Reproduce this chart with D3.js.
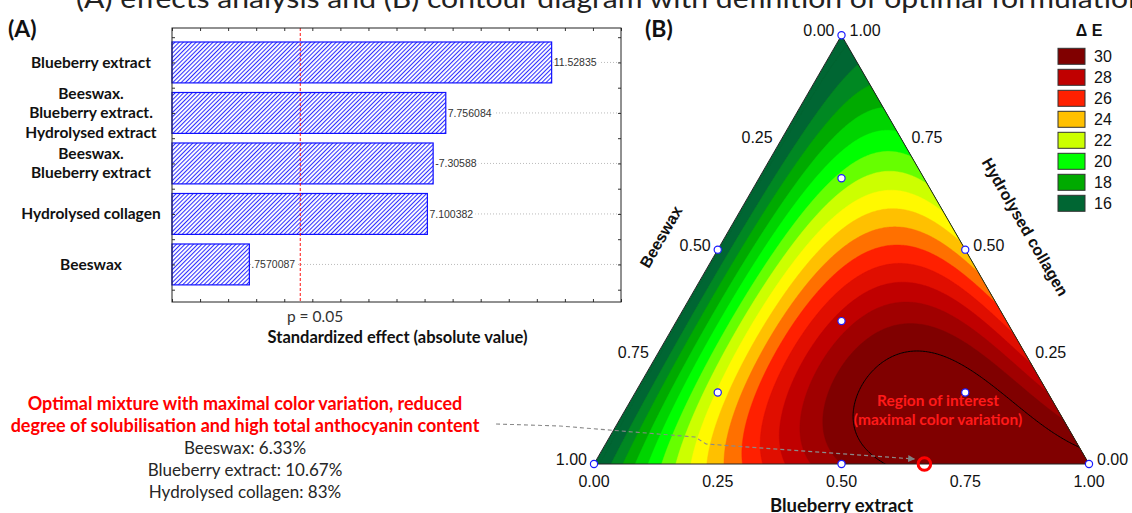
<!DOCTYPE html>
<html>
<head>
<meta charset="utf-8">
<script src="https://cdn.jsdelivr.net/npm/d3@7"></script>
<style>
  html, body { margin: 0; padding: 0; background: #fff; }
  svg { display: block; }
</style>
</head>
<body>
<svg id="chart" width="1132" height="513"></svg>
<script>
// ---------------- data ----------------
const chartTitle = "(A) effects analysis and (B) contour diagram with definition of optimal formulation";

// Pareto chart of standardized effects
const effectNames = [
  ["Blueberry extract"],
  ["Beeswax.", "Blueberry extract.", "Hydrolysed extract"],
  ["Beeswax.", "Blueberry extract"],
  ["Hydrolysed collagen"],
  ["Beeswax"]
];
const effectValues = [11.52835, 7.756084, -7.30588, 7.100382, 0.7570087];
const effectValueText = ["11.52835", "7.756084", "-7.30588", "7.100382", ".7570087"];
const pCritical = 2.570582;          // t(0.975; 5 df)
const effectAxisDomain = [-2, 14];
const effectAxisTitle = "Standardized effect (absolute value)";
const pLineText = "p = 0.05";

// Mixture components (pseudo-component scale)
const componentNames = ["Beeswax", "Blueberry extract", "Hydrolysed collagen"];
const componentLower = [5, 8, 83];   // % lower bounds
const componentRange = 4;            // % span of each pseudo-component
const edgeTickValues = [0, 0.25, 0.5, 0.75, 1];

// Simplex-centroid design with axial points (w = beeswax, b = blueberry, c = collagen)
const designPoints = [
  [1, 0, 0], [0, 1, 0], [0, 0, 1],
  [0.5, 0.5, 0], [0.5, 0, 0.5], [0, 0.5, 0.5],
  [1/3, 1/3, 1/3],
  [2/3, 1/6, 1/6], [1/6, 2/3, 1/6], [1/6, 1/6, 2/3]
];

// Fitted ΔE response surface
const linearCoefs = [15.5, 31.8, 15.5];   // w, b, c
const quadCoefs = [25.4, 1.0, 2.4];       // wb, wc, bc
const cubicCoefs = [3.3, 0, -4.5];        // wb(w-b), wc(w-c), bc(b-c)
const quarticCoefs = [74, 200, 75.6];     // wbc·w, wbc·b, wbc·c

const legendTitle = "Δ E";
const legendLevels = [30, 28, 26, 24, 22, 20, 18, 16];
const legendColors = ["#800000", "#c00000", "#ff2000", "#ffc000", "#ccff00", "#00ff00", "#00aa00", "#006633"];
const roiLevel = 31.1;
const roiText = ["Region of interest", "(maximal color variation)"];

// Optimal formulation (%)
const optimumPercent = [6.33, 10.67, 83];
const optimumHeading = ["Optimal mixture with maximal color variation, reduced",
                        "degree of solubilisation and high total anthocyanin content"];
const optimumLines = ["Beeswax: 6.33%", "Blueberry extract: 10.67%", "Hydrolysed collagen: 83%"];

// ---------------- setup ----------------
const svg = d3.select("#chart");
const defs = svg.append("defs");
const CAL = "Lato, 'Open Sans', sans-serif";
const ARI = "'Liberation Sans', Arial, sans-serif";

svg.append("text")
  .attr("x", 76).attr("y", 8)
  .attr("font-family", CAL).attr("font-size", 26).attr("fill", "#222")
  .attr("textLength", 1069).attr("lengthAdjust", "spacingAndGlyphs")
  .text(chartTitle);

// ---------------- (A) Pareto chart ----------------
const frame = { left: 172, right: 621, top: 28, bottom: 302 };
const x = d3.scaleLinear().domain(effectAxisDomain).range([frame.left, frame.right]);
const y = d3.scaleBand().domain(d3.range(effectValues.length))
  .range([frame.top, frame.bottom]).paddingInner(0.19).paddingOuter(0.308).align(0.45);
const yIdx = d3.scaleLinear().domain([0, effectValues.length - 1])
  .range([y(0) + y.bandwidth() / 2, y(effectValues.length - 1) + y.bandwidth() / 2]);

const hatch = defs.append("pattern").attr("id", "hatch")
  .attr("patternUnits", "userSpaceOnUse").attr("width", 3).attr("height", 3)
  .attr("patternTransform", "rotate(45)");
hatch.append("rect").attr("width", 3).attr("height", 3).attr("fill", "#fff");
hatch.append("line").attr("x1", 0.5).attr("y1", 0).attr("x2", 0.5).attr("y2", 3)
  .attr("stroke", "#2f2fff").attr("stroke-width", 1.1);

const pareto = svg.append("g");

// dotted guide lines at each effect
pareto.selectAll("line.guide").data(effectValues).join("line")
  .attr("class", "guide")
  .attr("x1", frame.left).attr("x2", frame.right)
  .attr("y1", (d, i) => yIdx(i)).attr("y2", (d, i) => yIdx(i))
  .attr("stroke", "#bbb").attr("stroke-width", 1).attr("stroke-dasharray", "1,2");

pareto.selectAll("rect.bar").data(effectValues).join("rect")
  .attr("class", "bar")
  .attr("x", x(effectAxisDomain[0]))
  .attr("y", (d, i) => y(i))
  .attr("width", d => x(Math.abs(d)) - x(effectAxisDomain[0]))
  .attr("height", y.bandwidth())
  .attr("fill", "url(#hatch)").attr("stroke", "#1010ff").attr("stroke-width", 1.2);

// value labels
const valG = pareto.selectAll("g.val").data(effectValues).join("g").attr("class", "val");
valG.each(function (d, i) {
  const g = d3.select(this);
  const t = g.append("text")
    .attr("x", x(Math.abs(d)) + 2).attr("y", yIdx(i) + 3.8)
    .attr("font-family", ARI).attr("font-size", 10.5).attr("fill", "#333")
    .text(effectValueText[i]);
  const bb = t.node().getBBox();
  g.insert("rect", "text").attr("x", bb.x).attr("y", bb.y).attr("width", bb.width + 2)
    .attr("height", bb.height).attr("fill", "#fff");
});

// significance line
pareto.append("line")
  .attr("x1", x(pCritical)).attr("x2", x(pCritical))
  .attr("y1", frame.top).attr("y2", frame.bottom)
  .attr("stroke", "#ff1010").attr("stroke-width", 1).attr("stroke-dasharray", "3,2");

// frame and ticks
const xTicks = d3.range(effectAxisDomain[0], effectAxisDomain[1] + 0.01, 1);
const yTicks = d3.range(-0.5, effectValues.length - 0.49, 0.5);
const styleAxis = g => {
  g.select(".domain").remove();
  g.selectAll(".tick line").attr("stroke", "#333");
  g.selectAll(".tick text").remove();
};
pareto.append("g").attr("transform", `translate(0,${frame.bottom})`)
  .call(d3.axisBottom(x).tickValues(xTicks).tickSize(-3)).call(styleAxis);
pareto.append("g").attr("transform", `translate(0,${frame.top})`)
  .call(d3.axisTop(x).tickValues(xTicks).tickSize(-3)).call(styleAxis);
pareto.append("g").attr("transform", `translate(${frame.left},0)`)
  .call(d3.axisLeft(yIdx).tickValues(yTicks).tickSize(-3)).call(styleAxis);
pareto.append("g").attr("transform", `translate(${frame.right},0)`)
  .call(d3.axisRight(yIdx).tickValues(yTicks).tickSize(-3)).call(styleAxis);
pareto.append("rect")
  .attr("x", frame.left).attr("y", frame.top)
  .attr("width", frame.right - frame.left).attr("height", frame.bottom - frame.top)
  .attr("fill", "none").attr("stroke", "#222").attr("stroke-width", 1);

// category labels
pareto.selectAll("text.cat").data(effectNames).join("text")
  .attr("class", "cat")
  .attr("text-anchor", "middle")
  .attr("font-family", CAL).attr("font-weight", 700).attr("font-size", 15.5).attr("fill", "#111")
  .each(function (lines, i) {
    const t = d3.select(this);
    const lh = 19.3;
    const y0 = yIdx(i) - (lines.length - 1) * lh / 2 + 5.3;
    lines.forEach((s, k) => t.append("tspan").attr("x", 91).attr("y", y0 + k * lh).text(s));
  });

pareto.append("text").attr("x", 315).attr("y", 322)
  .attr("text-anchor", "middle").attr("font-family", CAL).attr("font-size", 15.5).attr("fill", "#333")
  .text(pLineText);
pareto.append("text").attr("x", (frame.left + frame.right) / 2 + 1).attr("y", 343)
  .attr("text-anchor", "middle").attr("font-family", CAL).attr("font-weight", 700)
  .attr("font-size", 16.5).attr("fill", "#111")
  .text(effectAxisTitle);

svg.append("text").attr("x", 8).attr("y", 37)
  .attr("font-family", CAL).attr("font-weight", 700).attr("font-size", 23).attr("fill", "#111").text("(A)");
svg.append("text").attr("x", 645).attr("y", 37)
  .attr("font-family", CAL).attr("font-weight", 700).attr("font-size", 23).attr("fill", "#111").text("(B)");

// ---------------- (B) ternary contour ----------------
const S3 = Math.sqrt(3) / 2;
const tri = { x0: 594, x1: 1089, yBase: 464 };
const tx = d3.scaleLinear().domain([0, 1]).range([tri.x0, tri.x1]);
const ty = d3.scaleLinear().domain([0, S3]).range([tri.yBase, tri.yBase - (tri.x1 - tri.x0) * S3]);
const toXY = ([w, b, c]) => [tx(b + c / 2), ty(c * S3)];

function deltaE(w, b, c) {
  const [lw, lb, lc] = linearCoefs;
  const [qwb, qwc, qbc] = quadCoefs;
  const [cwb, cwc, cbc] = cubicCoefs;
  const [kw, kb, kc] = quarticCoefs;
  return lw * w + lb * b + lc * c
    + qwb * w * b + qwc * w * c + qbc * b * c
    + cwb * w * b * (w - b) + cwc * w * c * (w - c) + cbc * b * c * (b - c)
    + w * b * c * (kw * w + kb * b + kc * c);
}

const corners = [[1, 0, 0], [0, 1, 0], [0, 0, 1]].map(toXY);
defs.append("clipPath").attr("id", "triClip")
  .append("polygon").attr("points", corners.map(p => p.join(",")).join(" "));

const step = 1.5;
const gx0 = tri.x0 - 3, gy0 = ty(S3) - 3;
const nx = Math.ceil((tri.x1 - tri.x0 + 6) / step) + 1;
const ny = Math.ceil((tri.yBase - gy0 + 3) / step) + 1;
const grid = new Float64Array(nx * ny);
for (let j = 0; j < ny; j++) {
  for (let i = 0; i < nx; i++) {
    const X = tx.invert(gx0 + i * step), Y = ty.invert(gy0 + j * step);
    const c = Y / S3, b = X - c / 2, w = 1 - b - c;
    grid[j * nx + i] = deltaE(w, b, c);
  }
}

const levelColor = d3.scaleLinear()
  .domain(legendLevels.slice().reverse())
  .range(legendColors.slice().reverse())
  .interpolate(d3.interpolateHsl).clamp(true);

const bandThresholds = d3.range(16, legendLevels[0] + 1);
const contourGen = d3.contours().size([nx, ny]).thresholds(bandThresholds);
const path = d3.geoPath(d3.geoIdentity().scale(step).translate([gx0 - step / 2, gy0 - step / 2]));

const tern = svg.append("g");
const fillG = tern.append("g").attr("clip-path", "url(#triClip)");
fillG.append("polygon").attr("points", corners.map(p => p.join(",")).join(" "))
  .attr("fill", levelColor(legendLevels[legendLevels.length - 1]));
fillG.selectAll("path.band").data(contourGen(grid)).join("path")
  .attr("class", "band")
  .attr("d", path)
  .attr("fill", d => levelColor(d.value))
  .attr("stroke", d => levelColor(d.value)).attr("stroke-width", 0.4);

const roi = d3.contours().size([nx, ny]).thresholds([roiLevel])(grid);
fillG.selectAll("path.roi").data(roi).join("path")
  .attr("class", "roi").attr("d", path)
  .attr("fill", "none").attr("stroke", "#000").attr("stroke-width", 1);

tern.append("polygon").attr("points", corners.map(p => p.join(",")).join(" "))
  .attr("fill", "none").attr("stroke", "#222").attr("stroke-width", 1);

// edge tick labels
const tickG = tern.append("g").attr("font-family", ARI).attr("font-size", 16).attr("fill", "#111");
edgeTickValues.forEach(v => {
  const [bx, by] = toXY([1 - v, v, 0]);
  tickG.append("text").attr("x", bx).attr("y", by + 23).attr("text-anchor", "middle")
    .text(d3.format(".2f")(v));
  const [lx, ly] = toXY([v, 0, 1 - v]);
  tickG.append("text").attr("x", lx - 7).attr("y", ly + 1).attr("text-anchor", "end")
    .text(d3.format(".2f")(v));
  const [rx, ry] = toXY([0, 1 - v, v]);
  tickG.append("text").attr("x", rx + 8).attr("y", ry + 1).attr("text-anchor", "start")
    .text(d3.format(".2f")(v));
});

// axis titles
const [lmx, lmy] = toXY([0.5, 0, 0.5]);
tern.append("text")
  .attr("transform", `translate(${lmx - 52},${lmy - 10}) rotate(-60)`)
  .attr("text-anchor", "middle").attr("font-family", ARI).attr("font-weight", 700)
  .attr("font-size", 16).attr("fill", "#111").text(componentNames[0]);
const [rmx, rmy] = toXY([0, 0.5, 0.5]);
tern.append("text")
  .attr("transform", `translate(${rmx + 55},${rmy - 20}) rotate(60)`)
  .attr("text-anchor", "middle").attr("font-family", ARI).attr("font-weight", 700)
  .attr("font-size", 16).attr("fill", "#111").text(componentNames[2]);
tern.append("text").attr("x", tx(0.5)).attr("y", 512)
  .attr("text-anchor", "middle").attr("font-family", CAL).attr("font-weight", 700)
  .attr("font-size", 18.5).attr("fill", "#111").text(componentNames[1]);

// design points
tern.selectAll("circle.dp").data(designPoints).join("circle")
  .attr("class", "dp")
  .attr("cx", d => toXY(d)[0]).attr("cy", d => toXY(d)[1]).attr("r", 3.6)
  .attr("fill", "#fff").attr("stroke", "#1a1aff").attr("stroke-width", 1.2);

// region of interest caption
tern.append("text").attr("text-anchor", "middle")
  .attr("font-family", CAL).attr("font-weight", 700).attr("font-size", 15.5).attr("fill", "#ff1a1a")
  .selectAll("tspan").data(roiText).join("tspan")
  .attr("x", 938).attr("y", (d, i) => 405.5 + i * 19.5).text(d => d);

// optimum
const optimumPseudo = optimumPercent.map((p, i) => (p - componentLower[i]) / componentRange);
const [ox, oy] = toXY(optimumPseudo);

defs.append("marker").attr("id", "arrowHead")
  .attr("viewBox", "0 0 10 10").attr("refX", 9).attr("refY", 5)
  .attr("markerWidth", 7).attr("markerHeight", 7).attr("markerUnits", "userSpaceOnUse")
  .attr("orient", "auto")
  .append("path").attr("d", "M0,0 L10,5 L0,10 Z").attr("fill", "#808080");

const arrowPts = [[496, 424], [560, 426], [695, 437], [706, 444], [ox - 10, oy - 5]];
svg.append("path")
  .attr("d", d3.line()(arrowPts))
  .attr("fill", "none").attr("stroke", "#8a8a8a").attr("stroke-width", 1.1)
  .attr("stroke-dasharray", "4,3").attr("marker-end", "url(#arrowHead)");

tern.append("circle").attr("cx", ox).attr("cy", oy).attr("r", 6.3)
  .attr("fill", "none").attr("stroke", "#ff0000").attr("stroke-width", 3);

// legend
const leg = svg.append("g");
leg.append("text").attr("x", 1089).attr("y", 36).attr("text-anchor", "middle")
  .attr("font-family", ARI).attr("font-weight", 700).attr("font-size", 16).attr("fill", "#111")
  .text(legendTitle);
const legItems = leg.selectAll("g.item").data(legendLevels).join("g").attr("class", "item")
  .attr("transform", (d, i) => `translate(1058,${48.3 + i * 21})`);
legItems.append("rect").attr("width", 27).attr("height", 16)
  .attr("fill", (d, i) => legendColors[i]).attr("stroke", "#333").attr("stroke-width", 1);
legItems.append("text").attr("x", 36).attr("y", 14)
  .attr("font-family", ARI).attr("font-size", 16).attr("fill", "#111").text(d => d);

// optimal formulation text
const txt = svg.append("g").attr("text-anchor", "middle");
txt.selectAll("text.head").data(optimumHeading).join("text").attr("class", "head")
  .attr("x", 245).attr("y", (d, i) => 410 + i * 22)
  .attr("font-family", CAL).attr("font-weight", 700).attr("font-size", 18).attr("fill", "#ff0000")
  .text(d => d);
txt.selectAll("text.line").data(optimumLines).join("text").attr("class", "line")
  .attr("x", 245).attr("y", (d, i) => 454 + i * 22)
  .attr("font-family", CAL).attr("font-size", 17).attr("fill", "#262626")
  .text(d => d);
</script>
</body>
</html>
